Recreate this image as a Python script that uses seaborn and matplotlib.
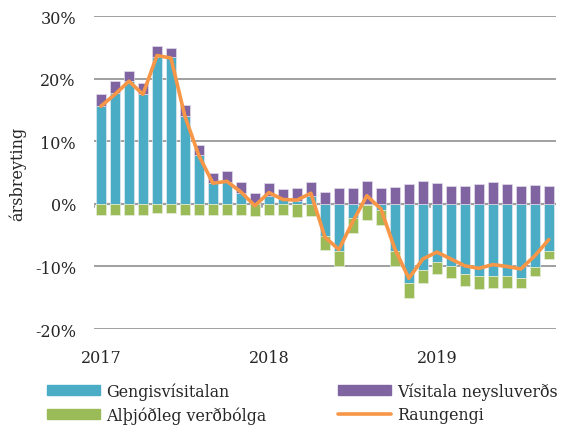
import matplotlib
matplotlib.use("Agg")
import matplotlib.pyplot as plt
import seaborn as sns
import numpy as np
import pandas as pd
from matplotlib.patches import Patch
from matplotlib.lines import Line2D

# Gögn (ársbreyting, %), jan 2017 - sep 2019
manudir = pd.period_range("2017-01", "2019-09", freq="M").astype(str).tolist()
gengisvisitalan = [15.7, 17.7, 19.7, 17.5, 23.5, 23.4, 14.0, 7.8, 3.3, 3.5, 1.8, 0.2,
                   1.2, 0.7, 0.4, 1.2, -5.2, -7.6, -2.2, -0.2, -0.9, -7.6, -12.7, -10.5,
                   -9.3, -10.0, -11.2, -11.5, -11.5, -11.6, -11.8, -10.1, -7.5]
visitala_neysluverds = [1.9, 2.0, 1.5, 1.8, 1.7, 1.5, 1.8, 1.6, 1.6, 1.7, 1.7, 1.5,
                        2.2, 1.6, 2.2, 2.3, 1.9, 2.5, 2.6, 3.6, 2.6, 2.7, 3.2, 3.6,
                        3.3, 2.8, 2.8, 3.2, 3.5, 3.2, 2.9, 3.0, 2.9]
althjodleg_verdbolga = [-1.8, -1.8, -1.7, -1.7, -1.5, -1.5, -1.7, -1.7, -1.7, -1.7, -1.7, -1.9,
                        -1.8, -1.8, -2.1, -1.9, -2.1, -2.3, -2.4, -2.3, -2.5, -2.3, -2.4, -2.1,
                        -1.9, -1.9, -1.9, -2.1, -1.9, -1.9, -1.7, -1.5, -1.3]
raungengi = [15.6, 17.5, 19.6, 17.5, 23.7, 23.3, 14.0, 7.7, 3.3, 3.6, 1.9, -0.3,
             1.8, 0.7, 0.6, 1.7, -5.3, -7.3, -2.8, 1.3, -0.8, -7.2, -11.9, -8.8,
             -7.7, -8.8, -9.9, -10.3, -9.7, -10.0, -10.4, -8.3, -5.7]
ar_merki = ["2017", "2018", "2019"]

blar = "#4BACC6"
fjolublar = "#8064A2"
graenn = "#9BBB59"
appelsinugulur = "#F79646"
grar = "#a0a0a0"

sns.set_style("white")
plt.rcParams["font.family"] = ["DejaVu Serif"]

df = pd.DataFrame({"manudur": manudir, "geng": gengisvisitalan,
                   "neysl": visitala_neysluverds, "althj": althjodleg_verdbolga,
                   "raun": raungengi})
df["x"] = np.arange(len(df))
df["pos_grunnur"] = df["geng"].clip(lower=0)
df["neg_grunnur"] = df["geng"].clip(upper=0)

fig = plt.figure(figsize=(5.66, 4.27), dpi=100)
ax = fig.add_axes([0.166, 0.227, 0.816, 0.733])

ax.bar(df["x"], df["geng"], width=0.72, color=blar, edgecolor="#dfe9ee", linewidth=0.5, zorder=2)
ax.bar(df["x"], df["neysl"], bottom=df["pos_grunnur"], width=0.72, color=fjolublar,
       edgecolor="#e3dcea", linewidth=0.5, zorder=2)
ax.bar(df["x"], df["althj"], bottom=df["neg_grunnur"], width=0.72, color=graenn,
       edgecolor="#e5eedb", linewidth=0.5, zorder=2)
sns.lineplot(data=df, x="x", y="raun", color=appelsinugulur, linewidth=2.6, ax=ax, zorder=3)

ax.set_xlim(-0.5, len(df) - 0.5)
ax.set_ylim(-20, 30)
ax.set_yticks(range(-20, 31, 10))
ax.set_yticklabels([f"{v}%" for v in range(-20, 31, 10)], fontsize=11.5)
ax.yaxis.grid(True, color=grar, linewidth=1.4, zorder=0)
ax.axhline(0, color=grar, linewidth=1.6, zorder=1)
for b in [-0.5, 11.5, 23.5]:
    ax.plot([b, b], [0, -0.5], color=grar, linewidth=1.4, zorder=1)

ax.set_xticks([0, 12, 24])
ax.set_xticklabels(ar_merki, fontsize=11.5)
ax.tick_params(axis="x", length=0, pad=14)
ax.tick_params(axis="y", length=0, pad=13)
for s in ax.spines.values():
    s.set_visible(False)
ax.set_xlabel("")
ax.set_ylabel("ársbreyting", fontsize=11.5, labelpad=6)

handles = [Patch(color=blar), Patch(color=graenn), Patch(color=fjolublar),
           Line2D([], [], color=appelsinugulur, linewidth=2.6)]
labels = ["Gengisvísitalan", "Alþjóðleg verðbólga", "Vísitala neysluverðs", "Raungengi"]
fig.legend(handles, labels, ncol=2, loc="lower left", bbox_to_anchor=(0.058, -0.028),
           frameon=False, fontsize=11.4, handlelength=3.35, handleheight=0.57,
           columnspacing=4.5, labelspacing=0.42, handletextpad=0.38)

fig.savefig("out.png", dpi=100)
